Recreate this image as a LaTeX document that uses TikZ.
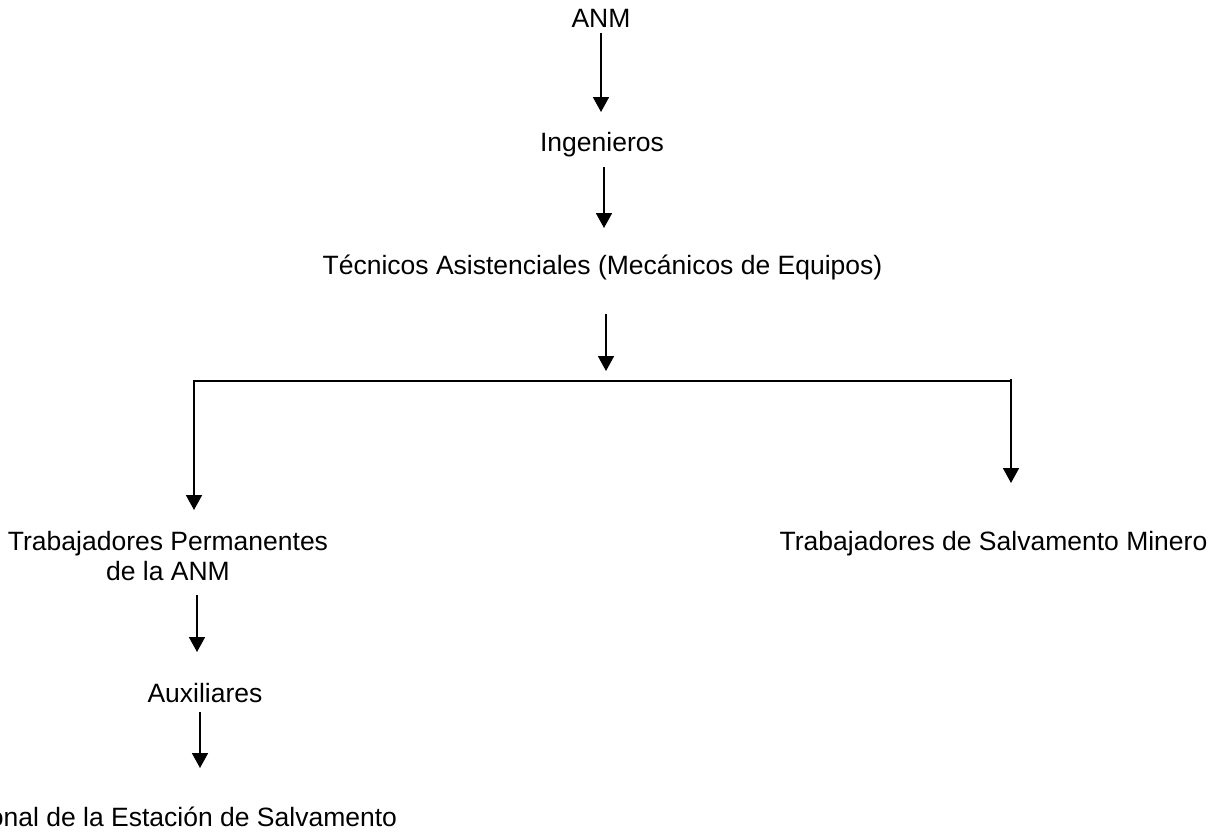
\documentclass[tikz,border=0pt]{standalone}
\usepackage{fontspec}
\setmainfont{Liberation Sans}
\usetikzlibrary{arrows.meta,calc}
\tikzset{
  lbl/.style={inner sep=0pt, outer sep=0pt, text height=19pt, text depth=6pt, anchor=base},
  arr/.style={line width=1.8pt, -{Triangle[length=15pt,width=16pt]}},
  ln/.style={line width=1.8pt}
}
\begin{document}
\begin{tikzpicture}[x=1pt,y=-1pt, every node/.style={font=\fontsize{26.5}{30}\selectfont}]
\useasboundingbox (0,0) rectangle (1226,833);
\clip (0,0) rectangle (1226,833);
\node[lbl] (anm) at (601,27) {ANM};
\node[lbl] (ing) at (602,151) {Ingenieros};
\node[lbl] (tec) at (602.5,274) {Técnicos Asistenciales (Mecánicos de Equipos)};
\node[inner sep=0pt, outer sep=0pt, align=center, anchor=north] (tp) at (168,531) {Trabajadores Permanentes\\de la ANM};
\node[lbl] (sal) at (993.5,550) {Trabajadores de Salvamento Minero};
\node[lbl] (aux) at (205,702) {Auxiliares};
\node[lbl, anchor=base east] (per) at (397,826) {Personal de la Estación de Salvamento};

\draw[arr] ($(anm.south)+(0,0)$) -- ($(ing.north)+(-1,-20)$);
\draw[arr] ($(ing.south)+(2,10)$) -- ($(tec.north)+(1.5,-27)$);
\coordinate (a3e) at ($(tec.south)+(3.5,91)$);
\draw[arr] ($(tec.south)+(3.5,34)$) -- (a3e);
\coordinate (j) at ($(a3e)+(0,10)$);
\draw[arr] (j) -| ($(tp.north)+(26,-21)$);
\draw[ln] (j) -| ($(sal.north)+(17.5,-150)$);
\draw[arr] ($(sal.north)+(17.5,-152)$) -- ($(sal.north)+(17.5,-48)$);
\draw[arr] ($(tp.south)+(29,15)$) -- ($(aux.north)+(-8,-31)$);
\coordinate (a5s) at ($(aux.south)+(-5,4)$);
\draw[arr] (a5s) -- ($(per.north -| a5s)+(0,-39)$);
\end{tikzpicture}
\end{document}
